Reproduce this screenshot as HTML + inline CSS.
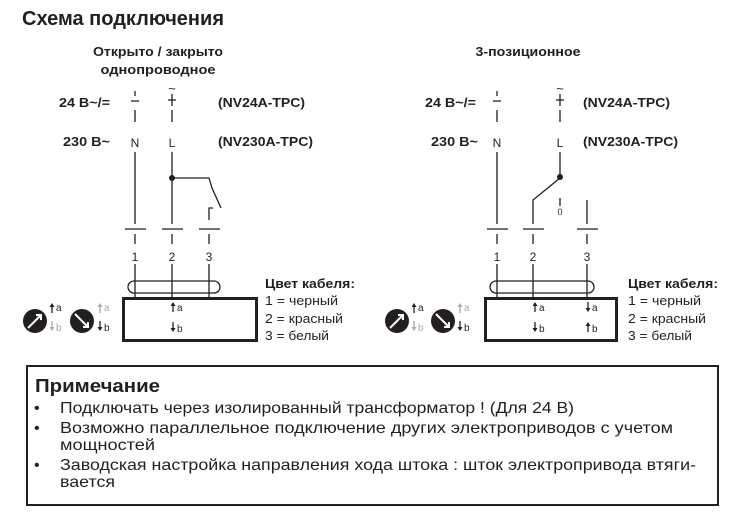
<!DOCTYPE html>
<html><head><meta charset="utf-8"><style>body{margin:0;background:#fff}svg{display:block}</style></head><body>
<svg width="731" height="516" viewBox="0 0 731 516" xmlns="http://www.w3.org/2000/svg" font-family="Liberation Sans, sans-serif" fill="#231f20">
<text x="22" y="25" font-size="20" font-weight="bold" textLength="202" lengthAdjust="spacingAndGlyphs">Схема подключения</text>
<text x="158" y="56" font-size="13" font-weight="bold" text-anchor="middle" textLength="130" lengthAdjust="spacingAndGlyphs">Открыто / закрыто</text>
<text x="158" y="74" font-size="13" font-weight="bold" text-anchor="middle" textLength="115" lengthAdjust="spacingAndGlyphs">однопроводное</text>
<text x="528" y="56" font-size="13" font-weight="bold" text-anchor="middle" textLength="105" lengthAdjust="spacingAndGlyphs">3-позиционное</text>

<g font-size="13" font-weight="bold">
<text x="59" y="107" textLength="51" lengthAdjust="spacingAndGlyphs">24 В~/=</text>
<text x="63" y="146" textLength="47" lengthAdjust="spacingAndGlyphs">230 В~</text>
<text x="218" y="107" textLength="87" lengthAdjust="spacingAndGlyphs">(NV24A-TPC)</text>
<text x="218" y="146" textLength="95" lengthAdjust="spacingAndGlyphs">(NV230A-TPC)</text>
<text x="425" y="107" textLength="51" lengthAdjust="spacingAndGlyphs">24 В~/=</text>
<text x="431" y="146" textLength="47" lengthAdjust="spacingAndGlyphs">230 В~</text>
<text x="583" y="107" textLength="87" lengthAdjust="spacingAndGlyphs">(NV24A-TPC)</text>
<text x="583" y="146" textLength="95" lengthAdjust="spacingAndGlyphs">(NV230A-TPC)</text>
</g>

<g stroke="#231f20" stroke-width="1.3" fill="none">
<path d="M135 91v5M131 101h8M135 110v12M172 94v12M168 100h8M172 110v12"/>
<path d="M135 152v72M172 152v72M172 178h37l3 10 9 20M209 220v-12h4"/>
<path d="M125 229h21M162 229h21M199 229h21M135 234v10M172 234v10M209 234v10"/>
<path d="M135 264v33M172 264v33M209 264v33"/>
<rect x="128" y="281" width="92" height="12" rx="6"/>
<path d="M497 91v5M493 101h8M497 110v12M560 94v12M556 100h8M560 110v12"/>
<path d="M497 152v72M560 152v26M560 178l-27 22v24M560 198v8M587 200v24"/>
<path d="M487 229h21M523 229h21M577 229h21M497 234v10M533 234v10M587 234v10"/>
<path d="M497 264v33M533 264v33M587 264v33"/>
<rect x="490" y="281" width="104" height="12" rx="6"/>
</g>
<text x="172" y="93" font-size="13" text-anchor="middle">~</text>
<text x="560" y="93" font-size="13" text-anchor="middle">~</text>
<circle cx="172" cy="178" r="3"/>
<circle cx="560" cy="177" r="3"/>
<g font-size="12" text-anchor="middle">
<text x="135" y="147">N</text><text x="172" y="147">L</text>
<text x="497" y="147">N</text><text x="560" y="147">L</text>
<text x="560" y="215" font-size="9">0</text>
<text x="135" y="261">1</text><text x="172" y="261">2</text><text x="209" y="261">3</text>
<text x="497" y="261">1</text><text x="533" y="261">2</text><text x="587" y="261">3</text>
</g>
<rect x="123.5" y="298.5" width="133" height="42" fill="none" stroke="#231f20" stroke-width="3"/>
<rect x="485.5" y="298.5" width="131" height="42" fill="none" stroke="#231f20" stroke-width="3"/>

<defs>
<g id="up"><path d="M0 9V1" stroke-width="1.3"/><path d="M-2.5 3L0 -1 2.5 3z" stroke="none"/></g>
<g id="dn"><path d="M0 0v8" stroke-width="1.3"/><path d="M-2.5 6L0 10 2.5 6z" stroke="none"/></g>
</defs>
<g stroke="#231f20" fill="#231f20" font-size="10">
<use href="#up" x="173" y="303"/><text x="177" y="311" stroke="none">a</text>
<use href="#dn" x="173" y="322"/><text x="177" y="332" stroke="none">b</text>
<use href="#up" x="535" y="303"/><text x="539" y="311" stroke="none">a</text>
<use href="#dn" x="535" y="322"/><text x="539" y="332" stroke="none">b</text>
<use href="#dn" x="588" y="302"/><text x="592" y="311" stroke="none">a</text>
<use href="#up" x="588" y="323"/><text x="592" y="332" stroke="none">b</text>
</g>

<g>
<circle cx="35" cy="321" r="12"/><path d="M28 328L41 315M36 315h5v5" stroke="#fff" stroke-width="2" fill="none"/>
<circle cx="82" cy="321" r="12"/><path d="M75 314L88 327M88 322v5h-5" stroke="#fff" stroke-width="2" fill="none"/>
<circle cx="397" cy="321" r="12"/><path d="M390 328L403 315M398 315h5v5" stroke="#fff" stroke-width="2" fill="none"/>
<circle cx="443" cy="321" r="12"/><path d="M436 314L449 327M449 322v5h-5" stroke="#fff" stroke-width="2" fill="none"/>
</g>
<g font-size="10">
<g stroke="#231f20" fill="#231f20"><use href="#up" x="52" y="304"/><text x="56" y="311" stroke="none">a</text></g>
<g stroke="#aaa" fill="#aaa"><use href="#dn" x="52" y="321"/><text x="56" y="331" stroke="none">b</text></g>
<g stroke="#aaa" fill="#aaa"><use href="#up" x="100" y="304"/><text x="104" y="311" stroke="none">a</text></g>
<g stroke="#231f20" fill="#231f20"><use href="#dn" x="100" y="321"/><text x="104" y="331" stroke="none">b</text></g>
<g stroke="#231f20" fill="#231f20"><use href="#up" x="414" y="304"/><text x="418" y="311" stroke="none">a</text></g>
<g stroke="#aaa" fill="#aaa"><use href="#dn" x="414" y="321"/><text x="418" y="331" stroke="none">b</text></g>
<g stroke="#aaa" fill="#aaa"><use href="#up" x="460" y="304"/><text x="464" y="311" stroke="none">a</text></g>
<g stroke="#231f20" fill="#231f20"><use href="#dn" x="460" y="321"/><text x="464" y="331" stroke="none">b</text></g>
</g>

<g font-size="13">
<text x="265" y="288" font-weight="bold" textLength="90" lengthAdjust="spacingAndGlyphs">Цвет кабеля:</text>
<text x="265" y="305" textLength="73" lengthAdjust="spacingAndGlyphs">1 = черный</text>
<text x="265" y="323" textLength="78" lengthAdjust="spacingAndGlyphs">2 = красный</text>
<text x="265" y="340" textLength="64" lengthAdjust="spacingAndGlyphs">3 = белый</text>
<text x="628" y="288" font-weight="bold" textLength="90" lengthAdjust="spacingAndGlyphs">Цвет кабеля:</text>
<text x="628" y="305" textLength="73" lengthAdjust="spacingAndGlyphs">1 = черный</text>
<text x="628" y="323" textLength="78" lengthAdjust="spacingAndGlyphs">2 = красный</text>
<text x="628" y="340" textLength="64" lengthAdjust="spacingAndGlyphs">3 = белый</text>
</g>

<rect x="27" y="366" width="691" height="139" fill="none" stroke="#231f20" stroke-width="2"/>
<text x="35" y="392" font-size="18" font-weight="bold" textLength="125" lengthAdjust="spacingAndGlyphs">Примечание</text>
<g font-size="16">
<text x="34" y="413">•</text><text x="34" y="433">•</text><text x="34" y="470">•</text>
<text x="60" y="413" textLength="514" lengthAdjust="spacingAndGlyphs">Подключать через изолированный трансформатор ! (Для 24 В)</text>
<text x="60" y="433" textLength="613" lengthAdjust="spacingAndGlyphs">Возможно параллельное подключение других электроприводов с учетом</text>
<text x="60" y="450" textLength="95" lengthAdjust="spacingAndGlyphs">мощностей</text>
<text x="60" y="470" textLength="636" lengthAdjust="spacingAndGlyphs">Заводская настройка направления  хода штока : шток электропривода втяги-</text>
<text x="60" y="487" textLength="55" lengthAdjust="spacingAndGlyphs">вается</text>
</g>
</svg>
</body></html>
